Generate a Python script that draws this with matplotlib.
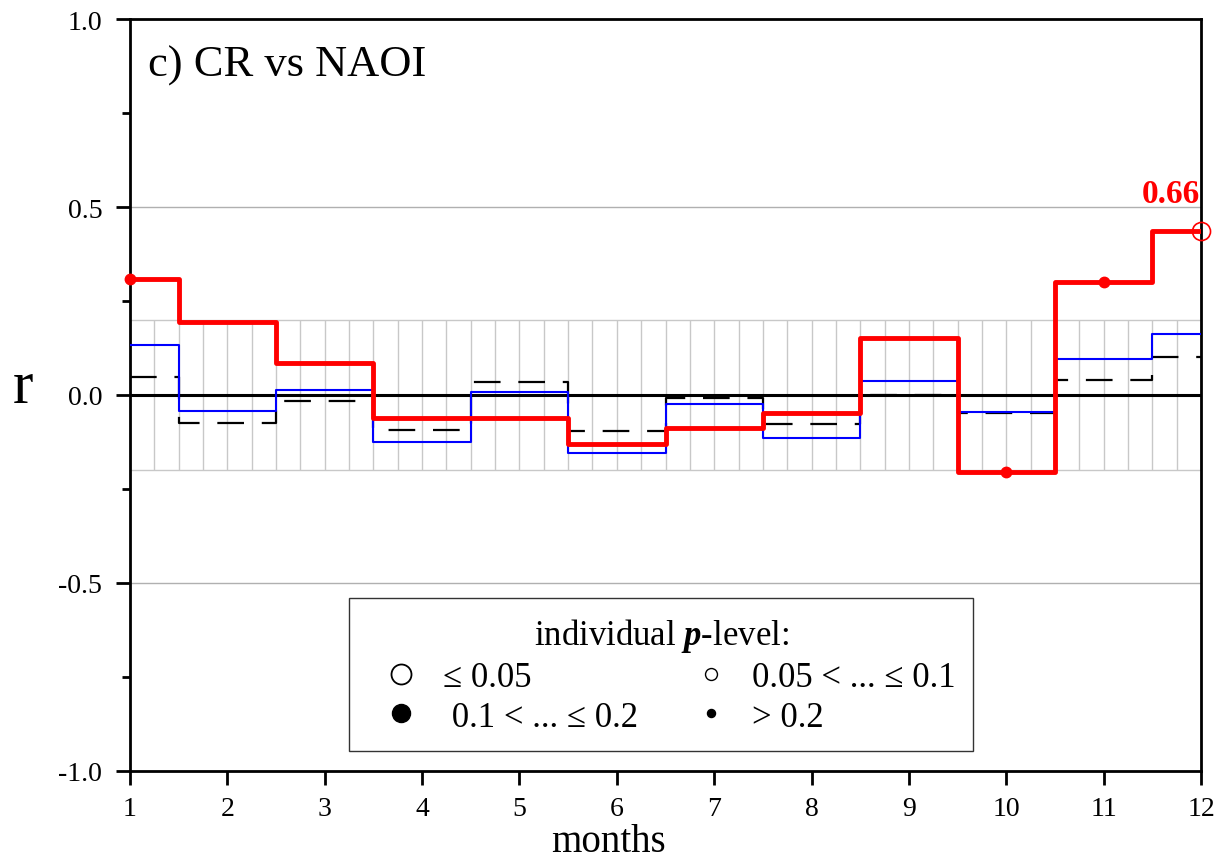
import numpy as np
import matplotlib
matplotlib.use("Agg")
import matplotlib.pyplot as plt
from matplotlib.lines import Line2D

plt.rcParams['font.family'] = ['Liberation Serif', 'DejaVu Serif']
plt.rcParams['mathtext.fontset'] = 'custom'
plt.rcParams['mathtext.rm'] = 'Liberation Serif'
plt.rcParams['mathtext.it'] = 'Liberation Serif:italic'
plt.rcParams['mathtext.bf'] = 'Liberation Serif:bold'
plt.rcParams['mathtext.bfit'] = 'Liberation Serif:bold:italic'

months = [1, 2, 3, 4, 5, 6, 7, 8, 9, 10, 11, 12]
red_r = [0.309, 0.194, 0.084, -0.061, -0.061, -0.130, -0.089, -0.049, 0.152, -0.204, 0.301, 0.437]
blue_r = [0.134, -0.043, 0.013, -0.125, 0.009, -0.153, -0.023, -0.115, 0.038, -0.044, 0.097, 0.162]
black_r = [0.047, -0.075, -0.016, -0.094, 0.034, -0.096, -0.007, -0.076, 0.001, -0.048, 0.041, 0.102]

# significance markers on the red series
filled_months = [1, 10, 11]
open_months = [12]
peak_label = "0.66"

yticks = [-1.0, -0.5, 0.0, 0.5, 1.0]
ytick_labels = ["-1.0", "-0.5", "0.0", "0.5", "1.0"]
band = 0.2

fig = plt.figure(figsize=(12.25, 8.62), dpi=100)
ax = fig.add_axes([130/1225, 90/862, 1071/1225, 752/862])

ax.set_xlim(1, 12)
ax.set_ylim(-1, 1)

# hatched non-significance band
ax.vlines(np.arange(1, 12.001, 0.25), -band, band, color='#c8c8c8', lw=1.0, zorder=1)
ax.hlines([-band, band], 1, 12, color='#c8c8c8', lw=1.0, zorder=1)
ax.hlines([-0.5, 0.5], 1, 12, color='#b0b0b0', lw=1.0, zorder=1)
ax.axhline(0, color='black', lw=2.2, zorder=2)

ax.step(months, black_r, where='mid', color='black', lw=1.6,
        dashes=(12, 8), zorder=3)
ax.step(months, blue_r, where='mid', color='#0000ff', lw=1.5, zorder=4)
ax.step(months, red_r, where='mid', color='#ff0000', lw=3.5, zorder=5)

red_map = dict(zip(months, red_r))
ax.plot(filled_months, [red_map[m] for m in filled_months], 'o', color='#ff0000',
        ms=7.5, zorder=6, clip_on=False)
ax.plot(open_months, [red_map[m] for m in open_months], 'o', mfc='none', mec='#ff0000',
        ms=13, mew=1.2, zorder=6, clip_on=False)
ax.annotate(peak_label, (open_months[0], red_map[open_months[0]]), xytext=(-1, 20.5),
            textcoords='offset points', ha='right', va='baseline', color='#ff0000',
            fontsize=24, fontweight='bold')

ax.text(0.017, (772 - 77) / 752, "c) CR vs NAOI", transform=ax.transAxes, fontsize=32,
        ha='left', va='baseline')

ax.set_xticks(months)
ax.set_xticklabels([str(m) for m in months], fontsize=20)
ax.set_yticks(yticks)
ax.set_yticklabels(ytick_labels, fontsize=20)
ax.set_yticks(np.arange(-0.75, 1.0, 0.5), minor=True)
ax.tick_params(axis='x', direction='out', length=10, width=2, pad=8)
ax.tick_params(axis='y', which='major', direction='out', length=10, width=2, pad=10)
ax.tick_params(axis='y', which='minor', direction='out', length=6, width=2)
for s in ax.spines.values():
    s.set_linewidth(2)

ax.set_xlabel("months", fontsize=28)
ax.xaxis.label.set_va('baseline')
ax.xaxis.set_label_coords((608 - 130) / 1071, (772 - 852) / 752)
ax.set_ylabel("r", fontsize=44, rotation=0, va='center')
ax.yaxis.set_label_coords(-0.1, 0.51)

handles = [
    Line2D([], [], ls='none', marker='o', mfc='none', mec='black', ms=14.4, mew=1.3),
    Line2D([], [], ls='none', marker='o', mfc='black', mec='black', ms=13),
    Line2D([], [], ls='none', marker='o', mfc='none', mec='black', ms=8.6, mew=1.0),
    Line2D([], [], ls='none', marker='o', mfc='black', mec='black', ms=5.8),
]
labels = ["\u2264 0.05", " 0.1 < ... \u2264 0.2", "0.05 < ... \u2264 0.1", "> 0.2"]
leg = ax.legend(handles, labels, ncol=2, loc='lower center',
                bbox_to_anchor=(0.496, 0.0266), fontsize=25,
                title=r"individual $\mathbfit{p}$-level:", title_fontsize=25,
                frameon=True, fancybox=False, edgecolor='black',
                handletextpad=0.2, columnspacing=1.1, labelspacing=0.2,
                borderpad=0.5, handlelength=2.0, borderaxespad=0)
leg.get_frame().set_linewidth(1.0)

fig.savefig("out.png", dpi=100)
